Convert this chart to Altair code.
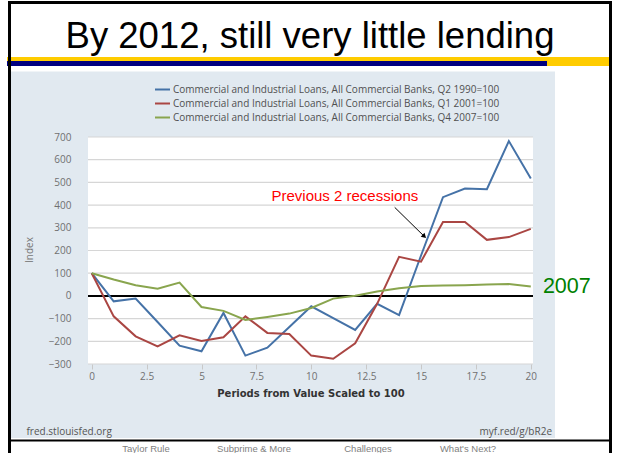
import altair as alt
import pandas as pd

# ---------------- data ----------------
periods = list(range(21))
s1990 = [100, -24, -12, -115, -219, -244, -75, -263, -228, -137, -46, -98, -150, -35, -85, 178, 435, 473, 470, 682, 517]
s2001 = [100, -90, -178, -222, -174, -199, -182, -90, -163, -168, -263, -277, -209, -35, 172, 151, 326, 326, 247, 259, 295]
s2007 = [100, 72, 47, 32, 59, -49, -66, -106, -93, -78, -53, -12, 1, 19, 34, 44, 46, 47, 50, 52, 41]

series_names = [
    "Commercial and Industrial Loans, All Commercial Banks, Q2 1990=100",
    "Commercial and Industrial Loans, All Commercial Banks, Q1 2001=100",
    "Commercial and Industrial Loans, All Commercial Banks, Q4 2007=100",
]
series_colors = ["#4572A7", "#AA4643", "#89A54E"]

y_ticks = [-300, -200, -100, 0, 100, 200, 300, 400, 500, 600, 700]
x_ticks = [0, 2.5, 5, 7.5, 10, 12.5, 15, 17.5, 20]

title_text = "By 2012, still very little lending"
note_text = ["Previous 2 recessions"]
note_x = [11.53]
note_y = [419]
arrow_x = [13.8]
arrow_y = [390]
arrow_x2 = [15.15]
arrow_y2 = [262]
label2007 = ["2007"]
label2007_x = [20.55]
label2007_y = [13]
nav_labels = ["Taylor Rule", "Subprime & More", "Challenges", "What's Next?"]
nav_x = [146, 254, 368, 468]

# ---------------- layout ----------------
W, H = 445, 227
OX, OY = 88, 137

def px(v):
    return v - OX

def py(v):
    return v - OY

XS = alt.Scale(domain=[-0.17, 20.1], nice=False, zero=False)
YS = alt.Scale(domain=[-300, 700], nice=False, zero=False)

X_AXIS = alt.Axis(values=x_ticks, format=".1~f", grid=False, domain=False, ticks=True,
                  tickSize=5, tickColor="#C8C8C8", labelPadding=2, labelFont="Open Sans",
                  labelFontSize=10, labelColor="#707070", zindex=1, title=None)
Y_AXIS = alt.Axis(values=y_ticks, format="d", grid=False, domain=False, ticks=False,
                  labelPadding=17, labelFont="Open Sans", labelFontSize=10,
                  labelColor="#707070", zindex=1, title=None)

one = pd.DataFrame({"d": [0]})

def rect(x0, x1, y0, y1, color):
    return alt.Chart(one).mark_rect(color=color).encode(
        x=alt.value(px(x0)), x2=alt.value(px(x1)), y=alt.value(py(y0)), y2=alt.value(py(y1))
    )

def label(txt, x, y, size, color, font="Liberation Sans", align="left", weight="normal"):
    return alt.Chart(one).mark_text(
        text=txt, font=font, fontSize=size, color=color, align=align,
        baseline="alphabetic", fontWeight=weight
    ).encode(x=alt.value(px(x)), y=alt.value(py(y)))

rows = []
for name, vals in zip(series_names, [s1990, s2001, s2007]):
    for p, v in zip(periods, vals):
        rows.append({"period": p, "value": v, "series": name})
df = pd.DataFrame(rows)

panel = rect(11, 555, 71.5, 438, "#E1E9F0")
plotbg = rect(88, 533, 137, 364, "#FFFFFF")

grid = alt.Chart(pd.DataFrame({"g": y_ticks})).mark_rule(color="#D6D6D6", strokeWidth=1.2).encode(
    y=alt.Y("g:Q", scale=YS, axis=Y_AXIS)
)
zero = alt.Chart(pd.DataFrame({"z": [0]})).mark_rule(color="#000000", strokeWidth=2).encode(
    y=alt.Y("z:Q", scale=YS, axis=Y_AXIS)
)

lines = alt.Chart(df).mark_line(strokeWidth=2).encode(
    x=alt.X("period:Q", scale=XS, axis=X_AXIS),
    y=alt.Y("value:Q", scale=YS, axis=Y_AXIS),
    color=alt.Color("series:N", scale=alt.Scale(domain=series_names, range=series_colors),
                    legend=alt.Legend(orient="none", legendX=66, legendY=-56, title=None,
                                      symbolType="stroke", symbolSize=225, symbolStrokeWidth=2,
                                      labelFont="Open Sans", labelFontSize=10, labelColor="#505050",
                                      labelLimit=600, labelOffset=2, rowPadding=-1.5, padding=0,
                                      zindex=1)),
)

note = alt.Chart(pd.DataFrame({"t": note_text, "x": note_x, "y": note_y})).mark_text(
    font="Liberation Sans", fontSize=15, color="#FF0000", align="center", baseline="alphabetic"
).encode(x=alt.X("x:Q", scale=XS, axis=X_AXIS), y=alt.Y("y:Q", scale=YS, axis=Y_AXIS), text="t:N")

arrow = alt.Chart(pd.DataFrame({"x": arrow_x, "y": arrow_y, "x2": arrow_x2, "y2": arrow_y2})).mark_rule(
    color="#000000", strokeWidth=1
).encode(x=alt.X("x:Q", scale=XS, axis=X_AXIS), y=alt.Y("y:Q", scale=YS, axis=Y_AXIS), x2="x2:Q", y2="y2:Q")

head = alt.Chart(pd.DataFrame({"x": arrow_x2, "y": arrow_y2})).mark_point(
    shape="triangle-up", filled=True, color="#000000", size=30, angle=134, opacity=1
).encode(x=alt.X("x:Q", scale=XS, axis=X_AXIS), y=alt.Y("y:Q", scale=YS, axis=Y_AXIS))

lab2007 = alt.Chart(pd.DataFrame({"t": label2007, "x": label2007_x, "y": label2007_y})).mark_text(
    font="Liberation Sans", fontSize=21.5, color="#008000", align="left", baseline="alphabetic"
).encode(x=alt.X("x:Q", scale=XS, axis=X_AXIS), y=alt.Y("y:Q", scale=YS, axis=Y_AXIS), text="t:N")

index_title = alt.Chart(one).mark_text(
    text="Index", font="Open Sans", fontSize=10, color="#777777", angle=270,
    align="center", baseline="middle"
).encode(x=alt.value(px(30)), y=alt.value(py(250)))

x_title = label("Periods from Value Scaled to 100", 311, 397, 10, "#333333",
                font="DejaVu Sans", align="center", weight="bold")
src_left = label("fred.stlouisfed.org", 26.5, 435, 10, "#555555", font="Open Sans")
src_right = label("myf.red/g/bR2e", 552, 435, 10, "#555555", font="Open Sans", align="right")

title = label(title_text, 310, 48, 36.5, "#000000", align="center")

yellow = rect(7, 610, 57, 66, "#FFCC00")
navy = rect(7, 547, 61, 66, "#000080")

frame_top = rect(8, 612, 1, 4, "#000000")
frame_left = rect(8, 11, 1, 453, "#000000")
frame_right = rect(609, 612, 1, 453, "#000000")
frame_bottom = rect(9, 611, 439.5, 441.5, "#000000")

nav = [label(t, x, 451.5, 9.5, "#7F7F7F", align="center") for t, x in zip(nav_labels, nav_x)]

chart = alt.layer(
    panel, plotbg, grid, zero, lines, note, arrow, head, lab2007,
    index_title, x_title, src_left, src_right, title, yellow, navy,
    frame_top, frame_left, frame_right, frame_bottom, *nav
).properties(
    width=W, height=H, autosize="none",
    padding={"left": OX, "top": OY, "right": 617 - OX - W, "bottom": 453 - OY - H},
    background="#FFFFFF",
).configure_view(stroke=None)

chart.save("out.html", embed_options={"renderer": "svg", "actions": False})
